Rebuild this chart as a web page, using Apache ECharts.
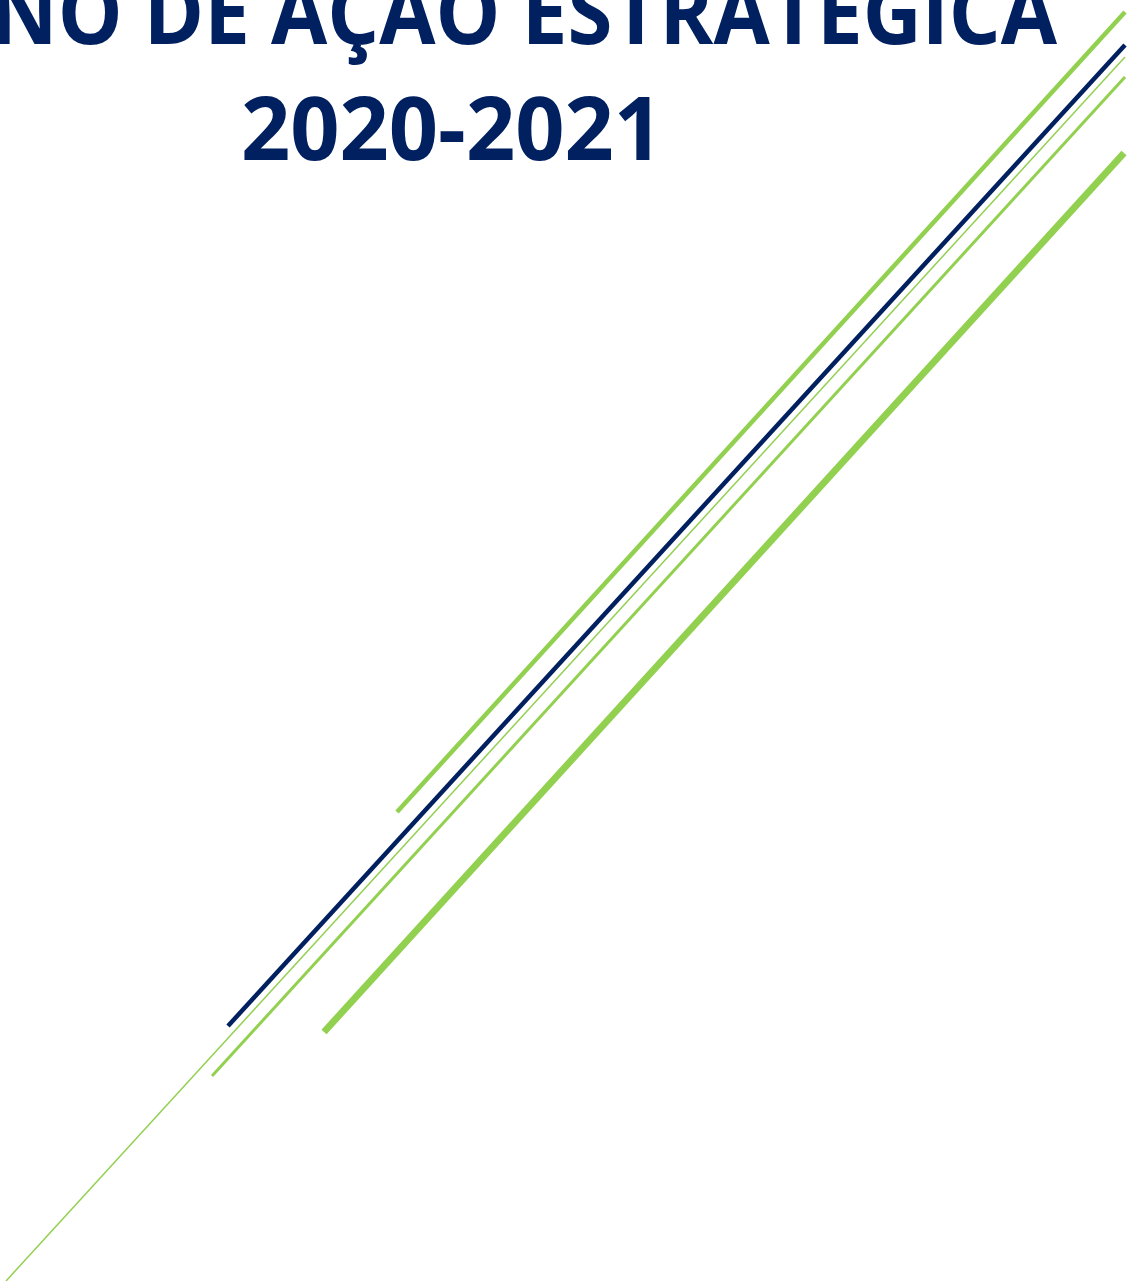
<!DOCTYPE html>
<html style="height: 100%">
<head>
    <meta charset="UTF-8">
</head>
<body style="height: 100%; margin: 0; background: #fff">
    <div id="container" style="width: 1129px; height: 1281px"></div>
    <script type="text/javascript" src="https://cdn.jsdelivr.net/npm/echarts@6.0.0/dist/echarts.min.js"></script>
    <script type="text/javascript">
    // title lines
    var titleLines = ['PLANO DE AÇÃO ESTRATÉGICA', '2020-2021'];

    // diagonal strokes, [x, y] end points in page units
    var greenUpper = [[397, 812], [1125, 12]];
    var navyLine = [[228, 1026], [1125, 45]];
    var greenThin = [[6, 1281], [1125, 57]];
    var greenMid = [[212, 1076], [1125, 77]];
    var greenThick = [[324, 1032], [1124, 153]];

    var navy = '#002060';
    var green = '#92d050';

    var myChart = echarts.init(document.getElementById('container'));
    var option;

    function stroke(name, pts, color, w) {
        return {
            name: name,
            type: 'line',
            data: pts,
            symbol: 'none',
            silent: true,
            animation: false,
            lineStyle: { color: color, width: w, cap: 'butt' }
        };
    }

    option = {
        animation: false,
        grid: { left: 0, right: 0, top: 0, bottom: 0, show: false },
        xAxis: { type: 'value', min: 0, max: 1129, show: false },
        yAxis: { type: 'value', min: 0, max: 1281, inverse: true, show: false },
        graphic: [
            {
                type: 'text',
                x: 1057,
                y: 19,
                scaleX: 0.927,
                style: {
                    text: titleLines[0],
                    fill: navy,
                    font: 'bold 88px "Open Sans"',
                    align: 'right',
                    verticalAlign: 'middle'
                }
            },
            {
                type: 'text',
                x: 452,
                y: 135,
                scaleX: 0.98,
                style: {
                    text: titleLines[1],
                    fill: navy,
                    font: 'bold 88px "Open Sans"',
                    align: 'center',
                    verticalAlign: 'middle'
                }
            }
        ],
        series: [
            stroke('greenUpper', greenUpper, green, 4.5),
            stroke('navyLine', navyLine, navy, 4.5),
            stroke('greenThin', greenThin, green, 1.5),
            stroke('greenMid', greenMid, green, 3),
            stroke('greenThick', greenThick, green, 7)
        ]
    };
    option && myChart.setOption(option);
    </script>
</body>
</html>
